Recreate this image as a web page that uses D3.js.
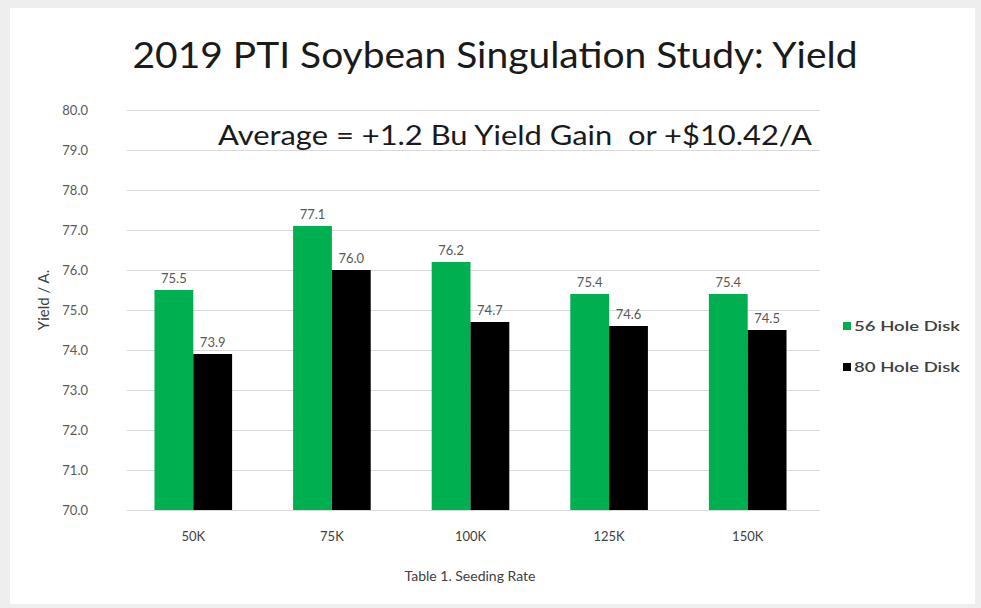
<!DOCTYPE html>
<html>
<head>
<meta charset="utf-8">
<script src="https://cdn.jsdelivr.net/npm/d3@7"></script>
<style>
  html, body { margin: 0; padding: 0; background: #eeeeee; }
  svg { display: block; }
</style>
</head>
<body>
<svg id="chart" width="981" height="608"></svg>
<script>
// Seeding-rate yield comparison: two disk types per seeding rate
const categories = ["50K", "75K", "100K", "125K", "150K"];
const seriesNames = ["56 Hole Disk", "80 Hole Disk"];
const disk56 = [75.5, 77.1, 76.2, 75.4, 75.4];
const disk80 = [73.9, 76.0, 74.7, 74.6, 74.5];
const yTicks = [70, 71, 72, 73, 74, 75, 76, 77, 78, 79, 80];
const seriesColors = ["#00b050", "#000000"];

const titleText = "2019 PTI Soybean Singulation Study: Yield";
const subtitleText = "Average = +1.2 Bu Yield Gain  or +$10.42/A";

const svg = d3.select("#chart");
const font = "Lato, 'Open Sans', sans-serif";

// white card on light grey surround
svg.append("rect").attr("x", 10).attr("y", 8).attr("width", 965).attr("height", 596)
  .attr("fill", "#ffffff");

const plot = { left: 124, right: 817, top: 110, bottom: 510 };

const x0 = d3.scaleBand().domain(categories).range([plot.left, plot.right])
  .paddingInner(0.44).paddingOuter(0.22);
const x1 = d3.scaleBand().domain(seriesNames).range([0, x0.bandwidth()]).padding(0);
const y = d3.scaleLinear().domain([70, 80]).range([plot.bottom, plot.top]);
const color = d3.scaleOrdinal().domain(seriesNames).range(seriesColors);

// gridlines
const grid = svg.append("g").attr("transform", `translate(${plot.left + 3},0)`)
  .call(d3.axisLeft(y).tickValues(yTicks).tickSize(-(plot.right - plot.left)).tickFormat(""));
grid.select(".domain").remove();
grid.selectAll("line").attr("stroke", "#d9d9d9").attr("stroke-width", 1);

// y axis labels
const yAxis = svg.append("g").attr("transform", "translate(91,0)")
  .call(d3.axisLeft(y).tickValues(yTicks).tickSize(0).tickFormat(d3.format(".1f")));
yAxis.select(".domain").remove();
yAxis.selectAll("text").attr("fill", "#595959").style("font-family", font)
  .style("font-size", "13px").attr("dx", "0");

// bars
const rows = categories.map((c, i) => ({ cat: c, vals: [
  { s: seriesNames[0], v: disk56[i] }, { s: seriesNames[1], v: disk80[i] }] }));

const groups = svg.append("g").selectAll("g").data(rows).join("g")
  .attr("transform", d => `translate(${x0(d.cat)},0)`);

groups.selectAll("rect").data(d => d.vals).join("rect")
  .attr("x", d => x1(d.s))
  .attr("y", d => y(d.v))
  .attr("width", x1.bandwidth())
  .attr("height", d => y(70) - y(d.v))
  .attr("fill", d => color(d.s));

// value labels
groups.selectAll("text").data(d => d.vals).join("text")
  .attr("x", d => x1(d.s) + x1.bandwidth() / 2)
  .attr("y", d => y(d.v) - 7)
  .attr("text-anchor", "middle")
  .attr("fill", "#595959")
  .style("font-family", font).style("font-size", "13px")
  .text(d => d3.format(".1f")(d.v));

// category axis
const xAxis = svg.append("g").attr("transform", `translate(0,${plot.bottom})`)
  .call(d3.axisBottom(x0).tickSize(0).tickPadding(22));
xAxis.select(".domain").attr("stroke", "#d9d9d9").attr("d", `M${plot.left + 3},0.5H${plot.right + 3}`);
xAxis.selectAll("text").attr("fill", "#404040").style("font-family", font).style("font-size", "13px");

// axis titles
svg.append("text").attr("x", 470).attr("y", 581).attr("text-anchor", "middle")
  .attr("fill", "#404040").style("font-family", font).style("font-size", "14px")
  .text("Table 1. Seeding Rate");

svg.append("text").attr("transform", "translate(49,300) rotate(-90)")
  .attr("text-anchor", "middle").attr("fill", "#404040")
  .style("font-family", font).style("font-size", "15px")
  .text("Yield / A.");

// title and subtitle
svg.append("text").attr("x", 495).attr("y", 68).attr("text-anchor", "middle")
  .attr("fill", "#1a1a1a").style("font-family", font).style("font-size", "36px")
  .attr("textLength", 725).attr("lengthAdjust", "spacingAndGlyphs")
  .text(titleText);

svg.append("text").attr("x", 515).attr("y", 145).attr("text-anchor", "middle")
  .attr("fill", "#1a1a1a").style("font-family", font).style("font-size", "27px")
  .style("white-space", "pre")
  .attr("textLength", 594).attr("lengthAdjust", "spacingAndGlyphs")
  .text(subtitleText);

// legend
const legend = svg.append("g").selectAll("g").data(seriesNames).join("g")
  .attr("transform", (d, i) => `translate(843,${326 + i * 41})`);
legend.append("rect").attr("x", 0).attr("y", -4).attr("width", 8).attr("height", 8)
  .attr("fill", d => color(d));
legend.append("text").attr("x", 11).attr("y", 5)
  .attr("fill", "#404040").style("font-family", font).style("font-size", "14px")
  .style("font-weight", "600").attr("textLength", 106).attr("lengthAdjust", "spacingAndGlyphs")
  .text(d => d);
</script>
</body>
</html>
